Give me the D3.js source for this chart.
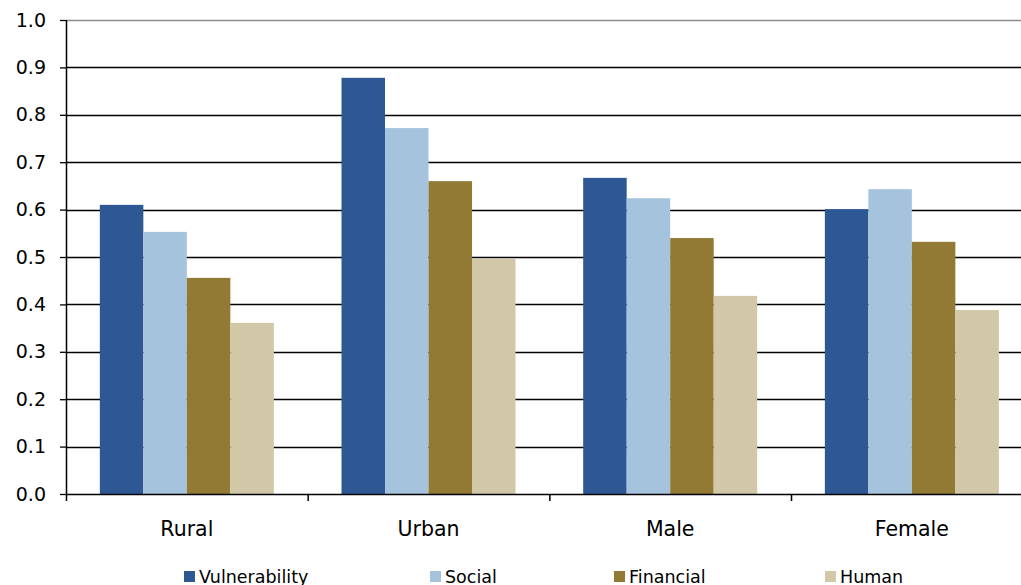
<!DOCTYPE html>
<html>
<head>
<meta charset="utf-8">
<script src="https://cdn.jsdelivr.net/npm/d3@7"></script>
<style>
  html, body { margin: 0; padding: 0; background: #fff; }
  svg { display: block; font-family: "DejaVu Sans", Verdana, sans-serif; }
</style>
</head>
<body>
<svg id="chart" width="1021" height="585"></svg>
<script>
// Groups and the four indices shown for each
const categories = ["Rural", "Urban", "Male", "Female"];
const seriesNames = ["Vulnerability", "Social", "Financial", "Human"];
const vulnerability = [0.610, 0.878, 0.667, 0.601];
const social = [0.553, 0.772, 0.624, 0.643];
const financial = [0.456, 0.660, 0.540, 0.532];
const human = [0.361, 0.496, 0.418, 0.388];
const yTicks = [0, 0.1, 0.2, 0.3, 0.4, 0.5, 0.6, 0.7, 0.8, 0.9, 1.0];

const colors = ["#2E5894", "#A6C3DE", "#937A34", "#D1C8A7"];
const seriesValues = [vulnerability, social, financial, human];

const svg = d3.select("#chart");
const margin = { left: 66, top: 20, bottom: 91 };
const plotW = 966.7;               // plot runs a little past the right edge
const plotH = 585 - margin.top - margin.bottom;

const x0 = d3.scaleBand().domain(categories).range([margin.left, margin.left + plotW]).paddingInner(0.28).paddingOuter(0.14);
const x1 = d3.scaleBand().domain(seriesNames).range([0, x0.bandwidth()]).padding(0);
const y = d3.scaleLinear().domain([0, 1]).range([margin.top + plotH, margin.top]);

// Horizontal gridlines
svg.append("g")
  .selectAll("line")
  .data(yTicks.filter(t => t > 0))
  .join("line")
  .attr("x1", margin.left).attr("x2", 1021)
  .attr("y1", d => Math.round(y(d)) + 0.5).attr("y2", d => Math.round(y(d)) + 0.5)
  .attr("stroke", d => d === 1 ? "#8c8c8c" : "#000")
  .attr("stroke-width", 1.3);

// Bars
const groups = svg.append("g")
  .selectAll("g")
  .data(categories)
  .join("g")
  .attr("transform", d => `translate(${x0(d)},0)`);

groups.selectAll("rect")
  .data((c, i) => seriesNames.map((s, k) => ({ s, k, v: seriesValues[k][i] })))
  .join("rect")
  .attr("x", d => x1(d.s))
  .attr("width", x1.bandwidth())
  .attr("y", d => y(d.v))
  .attr("height", d => y(0) - y(d.v))
  .attr("fill", d => colors[d.k]);

// Y axis
const yAxis = d3.axisLeft(y).tickValues(yTicks).tickFormat(d3.format(".1f")).tickSize(6).tickPadding(14);
const gy = svg.append("g").attr("transform", `translate(${margin.left},0)`).call(yAxis);
gy.select(".domain").attr("stroke", "#000").attr("stroke-width", 1.5).attr("d", `M0.5,${margin.top}V${y(0)}`);
gy.selectAll(".tick line").attr("stroke", "#000").attr("stroke-width", 1.3);
gy.selectAll(".tick text").attr("font-size", 19).attr("fill", "#000").attr("font-family", "DejaVu Sans, Verdana, sans-serif");

// X axis with ticks between groups
const gx = svg.append("g").attr("transform", `translate(0,${y(0)})`);
gx.append("line").attr("x1", margin.left).attr("x2", 1021).attr("y1", 0.5).attr("y2", 0.5)
  .attr("stroke", "#000").attr("stroke-width", 1.5);
const step = plotW / categories.length;
gx.selectAll("line.sep")
  .data(d3.range(categories.length))
  .join("line").attr("class", "sep")
  .attr("x1", i => margin.left + i * step + 0.5).attr("x2", i => margin.left + i * step + 0.5)
  .attr("y1", 0).attr("y2", 7)
  .attr("stroke", "#000").attr("stroke-width", 1.5);
gx.selectAll("text")
  .data(categories)
  .join("text")
  .attr("x", d => x0(d) + x0.bandwidth() / 2)
  .attr("y", 42)
  .attr("text-anchor", "middle")
  .attr("font-size", 20.5)
  .attr("fill", "#000")
  .text(d => d);

// Legend
const legendX = [184, 430, 614, 825];
const legend = svg.append("g").selectAll("g")
  .data(seriesNames)
  .join("g")
  .attr("transform", (d, i) => `translate(${legendX[i]},0)`);
legend.append("rect").attr("x", 0).attr("y", 571).attr("width", 11).attr("height", 11)
  .attr("fill", (d, i) => colors[i]);
legend.append("text").attr("x", 15).attr("y", 583).attr("font-size", 17.5).attr("fill", "#000").text(d => d);
</script>
</body>
</html>
